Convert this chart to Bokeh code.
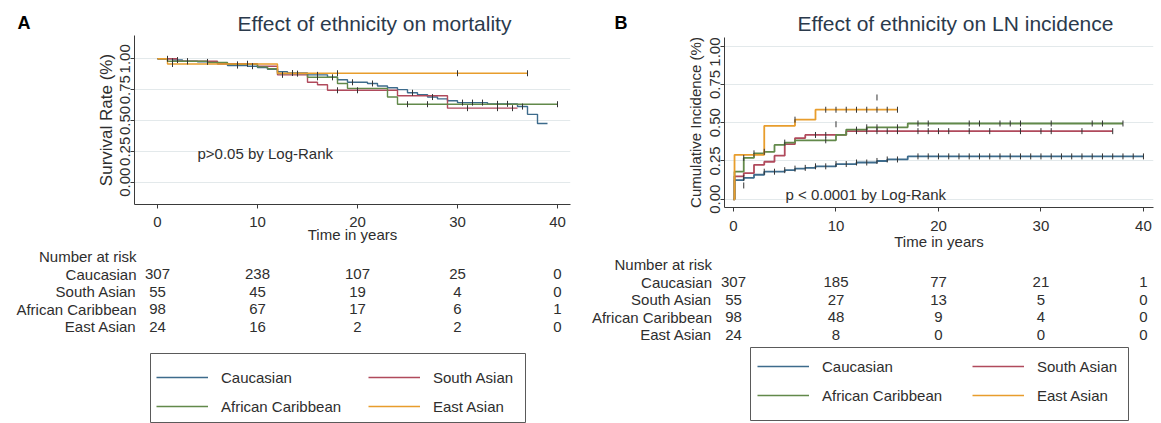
import math
from bokeh.plotting import figure
from bokeh.models import Range1d, FixedTicker, Label, Legend, LegendItem
from bokeh.layouts import column, row
from bokeh.embed import file_html
from bokeh.resources import INLINE
from bokeh.core.properties import value

# ---------------- data ----------------
GROUPS = ["Caucasian", "South Asian", "African Caribbean", "East Asian"]
COLORS = ["#3d6b8c", "#b04a5c", "#62894a", "#e89d2c"]

X_TICKS = [0, 10, 20, 30, 40]
X_TICK_LABELS = ["0", "10", "20", "30", "40"]
Y_TICKS = [0.0, 0.25, 0.5, 0.75, 1.0]
Y_TICK_LABELS = ["0.00", "0.25", "0.50", "0.75", "1.00"]
RISK_TIMES = [0, 10, 20, 30, 40]

# Panel A: survival (Kaplan-Meier)
A_CAU_T = [0, 1.5, 2.5, 4, 6, 7, 9, 10, 11, 12, 13, 15, 17, 18, 19, 21, 22, 23, 24, 25, 26, 27, 28, 29, 30, 33, 36, 37, 38]
A_CAU_S = [1.0, 0.99, 0.98, 0.975, 0.96, 0.945, 0.94, 0.93, 0.915, 0.895, 0.885, 0.87, 0.85, 0.83, 0.81, 0.80, 0.78, 0.765, 0.75, 0.725, 0.71, 0.69, 0.675, 0.66, 0.645, 0.635, 0.613, 0.55, 0.476]
A_CAU_END = 39
A_CAU_CENS = [2, 3, 5, 8, 9.5, 13.5, 16, 17.5, 19.5, 21.5, 25.5, 27.5, 30.5, 31.5, 32.5, 34, 35, 36.5]

A_SA_T = [0, 2, 6, 10, 12, 15, 16, 17, 24, 29]
A_SA_S = [1.0, 0.98, 0.96, 0.94, 0.87, 0.81, 0.79, 0.745, 0.70, 0.60]
A_SA_END = 36
A_SA_CENS = [1, 3, 9, 12.5, 18, 20, 31, 34, 35.5]

A_AC_T = [0, 1, 5, 7, 10, 11, 12, 15, 18, 19, 23, 24]
A_AC_S = [1.0, 0.98, 0.97, 0.955, 0.935, 0.92, 0.88, 0.85, 0.80, 0.76, 0.69, 0.632]
A_AC_END = 40
A_AC_CENS = [1.5, 8, 14, 16, 25, 27, 40]

A_EA_T = [0, 1, 12]
A_EA_S = [1.0, 0.958, 0.883]
A_EA_END = 37
A_EA_CENS = [1.5, 18, 30, 37]

A_RISK = [[307, 238, 107, 25, 0],
          [55, 45, 19, 4, 0],
          [98, 67, 17, 6, 1],
          [24, 16, 2, 2, 0]]

# Panel B: cumulative incidence of LN
B_CAU_T = [0, 0.1, 1, 2, 3, 5, 6, 7, 8, 10, 12, 14, 15, 17]
B_CAU_S = [0.0, 0.125, 0.14, 0.16, 0.18, 0.19, 0.20, 0.205, 0.215, 0.23, 0.24, 0.25, 0.26, 0.28]
B_CAU_END = 40
B_CAU_CENS = [1, 3, 4, 5, 6, 7, 8, 9, 10, 11, 12, 13, 14, 15, 16, 18, 19, 20, 21, 22, 23, 24, 25, 26,
              27, 28, 29, 30, 31, 32, 33, 34, 35, 36, 37, 38, 39, 40]

B_SA_T = [0, 0.1, 1, 2, 3, 4, 5, 6, 7, 11]
B_SA_S = [0.0, 0.15, 0.17, 0.225, 0.245, 0.285, 0.36, 0.40, 0.42, 0.445]
B_SA_END = 37
B_SA_CENS = [8, 9, 12, 13, 14, 15, 16, 18, 19, 20, 21, 23, 25, 28, 30, 31, 34, 37]

B_AC_T = [0, 0.1, 1, 2, 3, 4, 5, 6, 10, 11, 13, 17]
B_AC_S = [0.0, 0.18, 0.27, 0.30, 0.31, 0.355, 0.37, 0.385, 0.42, 0.455, 0.47, 0.495]
B_AC_END = 38
B_AC_CENS = [1, 2, 3, 5, 9, 12, 13, 14, 16, 18, 19, 23, 24, 26, 27, 28, 31, 35, 36, 38]

B_EA_T = [0, 0.1, 3, 6, 8]
B_EA_S = [0.0, 0.29, 0.48, 0.52, 0.585]
B_EA_END = 16
B_EA_CENS = [6, 9, 10, 11, 12, 13, 14, 15, 16]

B_EXTRA_T = [1, 10, 14]
B_EXTRA_Y = [0.09, 0.49, 0.665]

B_RISK = [[307, 185, 77, 21, 1],
          [55, 27, 13, 5, 0],
          [98, 48, 9, 4, 0],
          [24, 8, 0, 0, 0]]

# ---------------- styling ----------------
FONT = "Liberation Sans"
TXT = "#2e2e2e"
TITLE_COL = "#2b3a4c"
AXIS_COL = "#3a3a3a"
GRID_COL = "#e3e9eb"
CENS_COL = "#333333"


def no_align(p):
    if "frame_align" in p.properties():
        p.frame_align = False
    return p


def step_xy(t, s, end):
    return list(t) + [end], list(s) + [s[-1]]


def value_at(t, s, x):
    v = s[0]
    for ti, si in zip(t, s):
        if ti <= x:
            v = si
    return v


def header_panel(w, h, letter, letter_x, letter_y, title, title_x, title_y):
    p = figure(width=w, height=h, x_range=Range1d(0, w), y_range=Range1d(h, 0),
               x_axis_type=None, y_axis_type=None, output_backend="svg",
               toolbar_location=None, tools="",
               min_border_left=0, min_border_right=0, min_border_top=0, min_border_bottom=0)
    no_align(p)
    p.outline_line_color = None
    p.text(x=[letter_x], y=[letter_y], text=[letter], text_font=value(FONT),
           text_font_size="18px", text_font_style="bold", text_color="black",
           text_align="left", text_baseline="middle")
    p.text(x=[title_x], y=[title_y], text=[title], text_font=value(FONT),
           text_font_size="21px", text_color=TITLE_COL,
           text_align="left", text_baseline="middle")
    return p


def km_panel(cfg, curves, extra=None):
    p = figure(width=cfg["w"], height=cfg["h"],
               x_range=Range1d(*cfg["xr"]), y_range=Range1d(*cfg["yr"]),
               output_backend="svg", toolbar_location=None, tools="",
               min_border_left=cfg["bl"], min_border_right=cfg["br"],
               min_border_top=0, min_border_bottom=cfg["bb"])
    no_align(p)
    p.outline_line_color = None
    p.background_fill_color = "white"
    p.border_fill_color = "white"

    p.xaxis.ticker = FixedTicker(ticks=X_TICKS)
    p.xaxis.major_label_overrides = {t: l for t, l in zip(X_TICKS, X_TICK_LABELS)}
    p.yaxis.ticker = FixedTicker(ticks=Y_TICKS)
    p.yaxis.major_label_overrides = {t: l for t, l in zip(Y_TICKS, Y_TICK_LABELS)}
    p.yaxis.major_label_orientation = "vertical"
    p.xaxis.axis_label = "Time in years"
    p.yaxis.axis_label = cfg["ylabel"]

    for ax in (p.xaxis[0], p.yaxis[0]):
        ax.axis_line_color = AXIS_COL
        ax.axis_line_width = 1
        ax.major_tick_line_color = AXIS_COL
        ax.major_tick_out = 4
        ax.major_tick_in = 0
        ax.minor_tick_line_color = None
        ax.major_label_text_font = FONT
        ax.major_label_text_font_size = "15px"
        ax.major_label_text_color = TXT
        ax.axis_label_text_font = FONT
        ax.axis_label_text_font_size = "15px"
        ax.axis_label_text_font_style = "normal"
        ax.axis_label_text_color = TXT
    p.yaxis.axis_label_text_font_size = cfg["ylabel_size"]
    p.xaxis.major_label_standoff = cfg["x_lab_so"]
    p.xaxis.axis_label_standoff = cfg["x_title_so"]
    p.yaxis.major_label_standoff = 0
    p.yaxis.axis_label_standoff = cfg["y_title_so"]

    p.xgrid.grid_line_color = None
    p.ygrid.grid_line_color = GRID_COL
    p.ygrid.grid_line_width = 1

    for g, (t, s, end, cens) in enumerate(curves):
        xs, ys = step_xy(t, s, end)
        p.step(xs, ys, mode="after", line_color=COLORS[g], line_width=cfg["lw"])
    for g, (t, s, end, cens) in enumerate(curves):
        cy = [value_at(t, s, c) for c in cens]
        p.scatter(cens, cy, marker="dash", angle=math.pi / 2, size=6,
                  line_color=CENS_COL, line_width=1)
    if extra is not None:
        p.scatter(extra[0], extra[1], marker="dash", angle=math.pi / 2, size=6,
                  line_color=CENS_COL, line_width=1)

    p.add_layout(Label(x=cfg["ptext_pos"][0], y=cfg["ptext_pos"][1], text=cfg["ptext"],
                       text_font=FONT, text_font_size="15px", text_color=TXT,
                       text_align="left", text_baseline="middle"))
    return p


def table_panel(cfg, h, top_px, row_h, risk):
    fw = cfg["w"] - cfg["bl"] - cfg["br"]
    ppu = fw / (cfg["xr"][1] - cfg["xr"][0])
    xr = (cfg["xr"][0] - cfg["bl"] / ppu, cfg["xr"][1] + cfg["br"] / ppu)
    yr = ((h - top_px) / row_h, -top_px / row_h)
    p = figure(width=cfg["w"], height=h, x_range=Range1d(*xr), y_range=Range1d(*yr),
               x_axis_type=None, y_axis_type=None, output_backend="svg",
               toolbar_location=None, tools="",
               min_border_left=0, min_border_right=0, min_border_top=0, min_border_bottom=0)
    no_align(p)
    p.outline_line_color = None
    label_x = -2.1
    labels = ["Number at risk"] + GROUPS
    p.text(x=[label_x] * len(labels), y=list(range(len(labels))), text=labels,
           text_font=value(FONT), text_font_size="15px", text_color=TXT,
           text_align="right", text_baseline="middle")
    xs, ys, ns = [], [], []
    for g, counts in enumerate(risk):
        for t, n in zip(RISK_TIMES, counts):
            xs.append(t)
            ys.append(g + 1)
            ns.append(str(n))
    p.text(x=xs, y=ys, text=ns, text_font=value(FONT), text_font_size="15px",
           text_color=TXT, text_align="center", text_baseline="middle")
    return p


def legend_panel(w, h, bl, br, bt, bb, x1, x2, y0):
    p = figure(width=w, height=h, x_range=Range1d(0, 1), y_range=Range1d(0, 1),
               x_axis_type=None, y_axis_type=None, output_backend="svg",
               toolbar_location=None, tools="",
               min_border_left=bl, min_border_right=br, min_border_top=bt, min_border_bottom=bb)
    no_align(p)
    p.outline_line_color = "#5a5a5a"
    p.outline_line_width = 1
    rs = [p.line(x=[math.nan, math.nan], y=[math.nan, math.nan], line_color=c, line_width=1.6)
          for c in COLORS]
    for idx, x in ((0, x1), (1, x2)):
        items = [LegendItem(label=GROUPS[idx], renderers=[rs[idx]]),
                 LegendItem(label=GROUPS[idx + 2], renderers=[rs[idx + 2]])]
        lg = Legend(items=items, location=(x, y0))
        lg.border_line_color = None
        lg.background_fill_alpha = 0
        lg.padding = 0
        lg.margin = 0
        lg.spacing = 9
        lg.glyph_width = 52
        lg.glyph_height = 20
        lg.label_height = 20
        lg.label_standoff = 13
        lg.label_text_font = FONT
        lg.label_text_font_size = "15px"
        lg.label_text_color = TXT
        p.add_layout(lg)
    return p


cfgA = dict(w=586, h=213, bl=134, br=16, bb=44, xr=(-2.3, 41.3), yr=(-0.181, 1.189),
            ylabel="Survival Rate (%)", ylabel_size="17px",
            x_lab_so=8, x_title_so=-4, y_title_so=2, lw=1.4,
            ptext="p>0.05 by Log-Rank", ptext_pos=(4.0, 0.233))
cfgB = dict(w=575, h=216, bl=138, br=8, bb=46, xr=(-0.878, 40.98), yr=(-0.054, 1.057),
            ylabel="Cumulative Incidence (%)", ylabel_size="15px",
            x_lab_so=9, x_title_so=-1, y_title_so=4, lw=1.8,
            ptext="p < 0.0001 by Log-Rank", ptext_pos=(5.07, 0.03))

curvesA = [(A_CAU_T, A_CAU_S, A_CAU_END, A_CAU_CENS),
           (A_SA_T, A_SA_S, A_SA_END, A_SA_CENS),
           (A_AC_T, A_AC_S, A_AC_END, A_AC_CENS),
           (A_EA_T, A_EA_S, A_EA_END, A_EA_CENS)]
curvesB = [(B_CAU_T, B_CAU_S, B_CAU_END, B_CAU_CENS),
           (B_SA_T, B_SA_S, B_SA_END, B_SA_CENS),
           (B_AC_T, B_AC_S, B_AC_END, B_AC_CENS),
           (B_EA_T, B_EA_S, B_EA_END, B_EA_CENS)]

headA = header_panel(586, 35, "A", 17, 22, "Effect of ethnicity on mortality", 237, 23)
headB = header_panel(575, 37, "B", 28, 22, "Effect of ethnicity on LN incidence", 211, 23)
kmA = km_panel(cfgA, curvesA)
kmB = km_panel(cfgB, curvesB, extra=(B_EXTRA_T, B_EXTRA_Y))
tabA = table_panel(cfgA, 92, 8, 17.5, A_RISK)
tabB = table_panel(cfgB, 91, 11, 17.5, B_RISK)
legA = legend_panel(586, 83, 150, 61, 13, 0, 6, 218, 7)
legB = legend_panel(575, 79, 164, 33, 3, 3, 7, 222, 15)

layout = row(column(headA, kmA, tabA, legA), column(headB, kmB, tabB, legB))

open("out.html", "w").write(file_html(layout, INLINE))
